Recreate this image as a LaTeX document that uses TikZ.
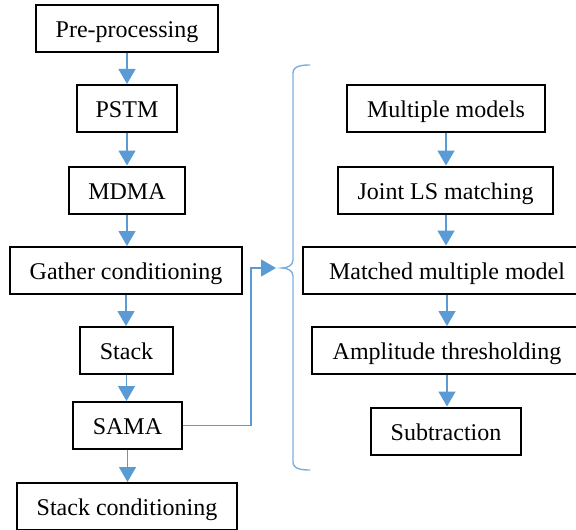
\documentclass[tikz,border=0pt]{standalone}
\usepackage{fontspec}
\setmainfont{Liberation Serif}
\usetikzlibrary{arrows.meta}
\definecolor{flowblue}{RGB}{91,155,213}
\tikzset{
  box/.style={draw=black,line width=1pt,rectangle,inner sep=0pt,minimum height=23.5pt,text height=12pt,text depth=3pt,font=\fontsize{12pt}{14pt}\selectfont},
  arr/.style={draw=flowblue,line width=0.7pt,-{Triangle[length=7.5pt,width=8.5pt]}},
  bracestyle/.style={draw=flowblue!80,line width=0.7pt}
}
\begin{document}
\begin{tikzpicture}[x=0.5pt,y=-0.5pt]
\useasboundingbox (0,0) rectangle (576,529);
\clip (0,0) rectangle (576,529);
% left column
\node[box,minimum width=91pt] (pre) at (127,28.5) {Pre-processing};
\node[box,minimum width=50pt] (pstm) at (127,108.5) {PSTM};
\node[box,minimum width=58pt] (mdma) at (127,190) {MDMA};
\node[box,minimum width=116pt] (gather) at (126,270.5) {Gather conditioning};
\node[box,minimum width=46.5pt] (stack) at (126.5,350.5) {Stack};
\node[box,minimum width=54.5pt] (sama) at (127.5,425.5) {SAMA};
\node[box,minimum width=110pt] (stackc) at (127,506.5) {Stack conditioning};
% right column
\node[box,minimum width=99pt] (mm) at (446,108.5) {Multiple models};
\node[box,minimum width=107.5pt] (jls) at (445.5,190) {Joint LS matching};
\node[box,minimum width=144pt] (mmm) at (447,270) {Matched multiple model};
\node[box,minimum width=135pt] (amp) at (447,350.5) {Amplitude thresholding};
\node[box,minimum width=75pt] (sub) at (446,431) {Subtraction};
% left arrows
\draw[arr] (pre.south) -- (pre.south |- pstm.north);
\draw[arr] (pstm.south) -- (pstm.south |- mdma.north);
\draw[arr] (mdma.south) -- (mdma.south |- gather.north);
\draw[arr] (gather.south) -- (gather.south |- stack.north);
\draw[arr] (stack.south) -- (stack.south |- sama.north);
\draw[arr] (sama.south) -- (sama.south |- stackc.north);
% right arrows
\draw[arr] (mm.south) -- (mm.south |- jls.north);
\draw[arr] (mm.south |- jls.south) -- (mm.south |- mmm.north);
\draw[arr] (mmm.south) -- (mmm.south |- amp.north);
\draw[arr] (amp.south) -- (amp.south |- sub.north);
% SAMA connector
\coordinate (bend) at (251,268);
\coordinate (tip) at (276,268);
\draw[arr] (sama.east) -| (bend) -- (tip);
% brace
\draw[bracestyle] (310,65) to[out=180,in=90] (293,73) -- (293,260)
  to[out=-90,in=0] (282,268) to[out=0,in=90] (293,276) -- (293,462)
  to[out=-90,in=180] (310,470);
\end{tikzpicture}
\end{document}
